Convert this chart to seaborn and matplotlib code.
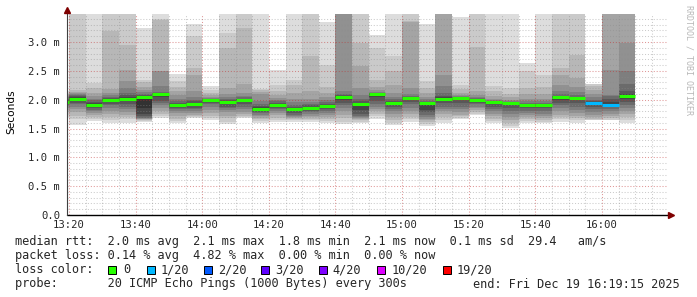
import numpy as np
import pandas as pd
import matplotlib
matplotlib.use("Agg")
import matplotlib.pyplot as plt
import seaborn as sns
from matplotlib.patches import Rectangle

# ---------------- data ----------------
bar_start = [t.strftime("%H:%M") for t in pd.date_range("2025-12-19 13:15", periods=35, freq="5min")]

median_rtt = [1.965, 2.02, 1.91, 1.99, 2.02, 2.05, 2.09, 1.91, 1.92, 1.99,
              1.965, 2.00, 1.84, 1.91, 1.84, 1.86, 1.885, 2.05, 1.92, 2.10,
              1.95, 2.03, 1.95, 2.02, 2.03, 1.99, 1.955, 1.94, 1.91, 1.91,
              2.05, 2.03, 1.94, 1.91, 2.06]

loss_count = [0, 0, 0, 0, 0, 0, 0, 0, 0, 0,
              0, 0, 0, 0, 0, 0, 0, 0, 0, 0,
              0, 0, 0, 0, 0, 0, 0, 0, 0, 0,
              0, 0, 1, 1, 0]

nan = float("nan")
# 20 sorted ping rtts (ms) per 5-minute step
ping_rtt = [
    [1.70, 1.74, 1.78, 1.82, 1.86, 1.89, 1.91, 1.93, 1.95, 1.96, 1.97, 1.98, 2.00, 2.02, 2.04, 2.06, 2.08, 2.10, 2.12, 2.15],
    [1.56, 1.66, 1.72, 1.78, 1.84, 1.88, 1.92, 1.95, 1.98, 2.01, 2.03, 2.04, 2.06, 2.08, 2.10, 2.12, 2.14, 2.17, 3.60, 3.60],
    [1.63, 1.66, 1.70, 1.74, 1.77, 1.80, 1.82, 1.85, 1.88, 1.90, 1.92, 1.94, 1.96, 1.99, 2.02, 2.06, 2.12, 2.20, 2.29, 3.60],
    [1.59, 1.64, 1.70, 1.75, 1.80, 1.86, 1.90, 1.93, 1.96, 1.98, 2.00, 2.01, 2.03, 2.05, 2.08, 2.12, 2.19, 3.19, 3.60, 3.60],
    [1.60, 1.66, 1.70, 1.74, 1.79, 1.84, 1.88, 1.93, 1.98, 2.01, 2.03, 2.05, 2.08, 2.12, 2.20, 2.32, 2.52, 2.95, 3.60, 3.60],
    [1.61, 1.63, 1.65, 1.66, 1.67, 1.68, 1.69, 1.72, 1.76, 1.86, 2.06, 2.07, 2.08, 2.10, 2.13, 2.17, 2.22, 2.30, 2.35, 3.24],
    [1.69, 1.72, 1.76, 1.81, 1.86, 1.90, 1.94, 1.98, 2.04, 2.08, 2.09, 2.10, 2.12, 2.14, 2.24, 2.49, 2.50, 3.38, 3.40, 3.60],
    [1.59, 1.63, 1.67, 1.72, 1.77, 1.80, 1.83, 1.86, 1.88, 1.90, 1.92, 1.93, 1.95, 1.98, 2.02, 2.08, 2.15, 2.22, 2.32, 2.44],
    [1.68, 1.70, 1.72, 1.74, 1.77, 1.80, 1.83, 1.86, 1.89, 1.91, 1.93, 1.95, 1.97, 2.00, 2.05, 2.15, 2.43, 2.55, 3.10, 3.31],
    [1.64, 1.68, 1.72, 1.77, 1.82, 1.88, 1.92, 1.95, 1.97, 1.985, 1.995, 2.00, 2.01, 2.02, 2.03, 2.05, 2.08, 2.12, 2.17, 2.23],
    [1.57, 1.62, 1.68, 1.72, 1.78, 1.82, 1.85, 1.88, 1.93, 1.955, 1.975, 1.985, 2.00, 2.02, 2.05, 2.10, 2.20, 2.90, 3.16, 3.60],
    [1.68, 1.70, 1.72, 1.75, 1.79, 1.83, 1.88, 1.92, 1.97, 1.995, 2.005, 2.01, 2.02, 2.04, 2.07, 2.12, 2.28, 3.25, 3.60, 3.60],
    [1.60, 1.63, 1.66, 1.68, 1.71, 1.74, 1.77, 1.79, 1.81, 1.83, 1.85, 1.87, 1.89, 1.92, 1.98, 2.10, 2.14, 2.16, 2.18, 3.60],
    [1.61, 1.65, 1.69, 1.73, 1.77, 1.80, 1.83, 1.86, 1.88, 1.90, 1.92, 1.93, 1.95, 1.97, 2.00, 2.03, 2.08, 2.15, 2.25, 2.52],
    [1.62, 1.64, 1.66, 1.68, 1.70, 1.72, 1.74, 1.77, 1.80, 1.83, 1.85, 1.86, 1.88, 1.91, 1.96, 2.02, 2.12, 2.25, 2.35, 3.60],
    [1.62, 1.65, 1.67, 1.70, 1.72, 1.75, 1.78, 1.80, 1.83, 1.85, 1.87, 1.88, 1.90, 1.92, 1.96, 2.02, 2.15, 2.75, 3.60, 3.60],
    [1.60, 1.63, 1.67, 1.70, 1.74, 1.77, 1.80, 1.83, 1.86, 1.88, 1.89, 1.90, 1.93, 1.96, 2.00, 2.05, 2.12, 2.22, 2.60, 3.35],
    [1.57, 1.62, 1.68, 1.74, 1.80, 1.85, 1.90, 1.95, 2.00, 2.04, 2.06, 2.07, 2.08, 2.10, 2.15, 3.60, 3.60, 3.60, 3.60, 3.60],
    [1.60, 1.62, 1.64, 1.66, 1.68, 1.70, 1.72, 1.76, 1.82, 1.91, 1.93, 1.95, 1.98, 2.02, 2.08, 2.20, 2.58, 2.98, 3.60, 3.60],
    [1.66, 1.72, 1.76, 1.80, 1.84, 1.88, 1.93, 1.98, 2.05, 2.09, 2.10, 2.105, 2.11, 2.12, 2.14, 2.17, 2.22, 2.35, 2.90, 3.12],
    [1.56, 1.60, 1.65, 1.70, 1.75, 1.80, 1.84, 1.88, 1.92, 1.945, 1.955, 1.965, 1.98, 2.01, 2.05, 2.12, 2.26, 2.49, 2.75, 3.60],
    [1.62, 1.66, 1.70, 1.75, 1.80, 1.86, 1.92, 1.96, 2.00, 2.025, 2.035, 2.04, 2.05, 2.07, 2.09, 2.20, 3.35, 3.36, 3.60, 3.60],
    [1.55, 1.58, 1.61, 1.64, 1.67, 1.70, 1.74, 1.78, 1.82, 1.945, 1.95, 1.955, 1.965, 1.98, 2.01, 2.05, 2.12, 2.20, 2.32, 3.31],
    [1.60, 1.65, 1.70, 1.76, 1.80, 1.84, 1.88, 1.94, 1.99, 2.015, 2.025, 2.04, 2.07, 2.12, 2.24, 2.43, 3.60, 3.60, 3.60, 3.60],
    [1.67, 1.69, 1.71, 1.74, 1.78, 1.83, 1.88, 1.94, 1.99, 2.025, 2.03, 2.035, 2.04, 2.05, 2.06, 2.08, 2.12, 2.18, 2.26, 3.44],
    [1.74, 1.76, 1.79, 1.82, 1.85, 1.88, 1.92, 1.95, 1.98, 1.995, 2.005, 2.01, 2.02, 2.03, 2.05, 2.08, 2.15, 2.91, 3.60, 3.60],
    [1.59, 1.63, 1.67, 1.71, 1.76, 1.80, 1.84, 1.88, 1.93, 1.95, 1.955, 1.96, 1.965, 1.975, 1.99, 2.02, 2.07, 2.15, 2.23, 3.60],
    [1.51, 1.55, 1.60, 1.65, 1.70, 1.75, 1.80, 1.86, 1.91, 1.935, 1.94, 1.945, 1.95, 1.96, 1.97, 2.00, 2.04, 2.10, 2.20, 3.60],
    [1.59, 1.63, 1.66, 1.70, 1.73, 1.77, 1.81, 1.85, 1.88, 1.905, 1.91, 1.915, 1.925, 1.94, 1.97, 2.02, 2.10, 2.20, 2.50, 2.63],
    [1.60, 1.62, 1.65, 1.68, 1.72, 1.76, 1.80, 1.85, 1.89, 1.905, 1.915, 1.92, 1.93, 1.95, 1.97, 2.02, 2.10, 2.22, 2.43, 3.60],
    [1.62, 1.66, 1.70, 1.74, 1.80, 1.85, 1.90, 1.95, 2.00, 2.045, 2.055, 2.06, 2.07, 2.10, 2.15, 2.26, 2.42, 2.55, 3.60, 3.60],
    [1.60, 1.64, 1.68, 1.72, 1.77, 1.82, 1.88, 1.94, 1.99, 2.025, 2.035, 2.04, 2.05, 2.08, 2.13, 2.22, 2.38, 2.78, 3.60, 3.60],
    [1.61, 1.64, 1.67, 1.70, 1.74, 1.78, 1.83, 1.87, 1.91, 1.94, 1.95, 1.96, 1.98, 2.00, 2.04, 2.10, 2.17, 2.23, 2.28, nan],
    [1.60, 1.64, 1.68, 1.72, 1.76, 1.80, 1.84, 1.87, 1.89, 1.91, 1.93, 1.96, 2.02, 2.06, 2.08, 2.52, 3.60, 3.60, 3.60, nan],
    [1.60, 1.65, 1.70, 1.75, 1.80, 1.85, 1.90, 1.96, 2.02, 2.05, 2.07, 2.09, 2.15, 2.28, 2.49, 2.98, 3.60, 3.60, 3.60, 3.60],
]

xtick_labels = ["13:20", "13:40", "14:00", "14:20", "14:40", "15:00", "15:20", "15:40", "16:00"]
ytick_labels = ["0.0", "0.5 m", "1.0 m", "1.5 m", "2.0 m", "2.5 m", "3.0 m"]
ytick_values = [0.0, 0.5, 1.0, 1.5, 2.0, 2.5, 3.0]

loss_legend = ["0", "1/20", "2/20", "3/20", "4/20", "10/20", "19/20"]
loss_colors = ["#26ff00", "#00b8ff", "#0059ff", "#5e00ff", "#7e00ff", "#dd00ff", "#ff0000"]
loss_thresholds = [0, 1, 2, 3, 4, 10, 19]

line_rtt = "median rtt:  2.0 ms avg  2.1 ms max  1.8 ms min  2.1 ms now  0.1 ms sd  29.4   am/s"
line_loss = "packet loss: 0.14 % avg  4.82 % max  0.00 % min  0.00 % now"
line_probe = "probe:       20 ICMP Echo Pings (1000 Bytes) every 300s"
line_end = "end: Fri Dec 19 16:19:15 2025"

# ---------------- figure ----------------
sns.set_style("white")
plt.rcParams["font.family"] = ["DejaVu Sans Mono"]
W, H = 697, 297
fig = plt.figure(figsize=(W / 100, H / 100), dpi=100)
fig.patch.set_facecolor("white")

x_l, x_r, y_b, y_t = 67.0, 666.6, 215.0, 14.0
ax = fig.add_axes([x_l / W, 1 - y_b / H, (x_r - x_l) / W, (y_b - y_t) / H])
ax.set_facecolor("white")

def to_min(s):
    h, m = s.split(":")
    return int(h) * 60 + int(m)

starts = np.array([to_min(s) for s in bar_start], dtype=float)
step = 5.0
pings = np.array(ping_rtt, dtype=float)
n = pings.shape[1]
half = n // 2

# smoke bands (smokeping style)
for k in range(1, half + 1):
    lo = pings[:, k - 1]
    hi = pings[:, n - k]
    ok = np.isfinite(lo) & np.isfinite(hi)
    g = int(190 / half * (half - k)) + 50
    col = "#%02x%02x%02x" % (g, g, g)
    ax.bar(starts[ok], (hi - lo)[ok], bottom=lo[ok], width=step, align="edge",
           color=col, linewidth=0, antialiased=False, zorder=1)

# median lines colored by loss
def loss_color(c):
    idx = 0
    for i, t in enumerate(loss_thresholds):
        if c >= t:
            idx = i
    return loss_colors[idx]

for s, m, lc in zip(starts, median_rtt, loss_count):
    ax.hlines(m, s, s + step, colors=loss_color(lc), linewidth=2.2, zorder=4)

xmin, xmax = 799.4, 979.4
ymax = 3.486
ax.set_xlim(xmin, xmax)
ax.set_ylim(0, ymax)

major_x = [to_min(s) for s in xtick_labels]
ax.set_xticks(major_x)
ax.set_xticklabels(xtick_labels, fontsize=7.6)
ax.set_xticks(np.arange(800, 980, 5), minor=True)
ax.set_yticks(ytick_values)
ax.set_yticklabels(ytick_labels, fontsize=7.6)
ax.set_yticks(np.arange(0.1, 3.45, 0.1), minor=True)

ax.set_axisbelow(False)
ax.grid(which="minor", color="#8c8c8c", alpha=0.45, linestyle=(0, (1, 1.8)), linewidth=0.75)
ax.grid(which="major", color="#c03030", alpha=0.5, linestyle=(0, (1, 1.8)), linewidth=0.75)
ax.tick_params(which="major", direction="out", length=1.5, width=0.7, color="#c06060", pad=3.5)
ax.tick_params(which="minor", direction="out", length=1.5, width=0.7, color="#b0b0b0")
ax.tick_params(axis="x", which="major", pad=2.2)

for sp in ax.spines.values():
    sp.set_visible(False)

# axes lines and arrows
ax.plot([xmin, xmax + 0.9], [0, 0], color="black", lw=1.0, clip_on=False, zorder=5)
ax.plot([xmin, xmin], [0, ymax + 0.07], color="#404040", lw=0.8, clip_on=False, zorder=5)
ax.plot([xmax + 1.3], [0], marker=">", color="#7f0000", markersize=4.5, clip_on=False, zorder=6)
ax.plot([xmin], [ymax + 0.07], marker="^", color="#7f0000", markersize=4.5, clip_on=False, zorder=6)

# y label
fig.text(11 / W, 1 - 112 / H, "Seconds", rotation=90, ha="center", va="center",
         fontsize=7.6, family="DejaVu Sans", color="black")

# watermark
fig.text(688.5 / W, 1 - 60 / H, "RRDTOOL / TOBI OETIKER", rotation=270, ha="center", va="center",
         fontsize=6, color="#b8b8b8")

# legend text
fs = 8.6
fig.text(15 / W, 1 - 241.5 / H, line_rtt, ha="left", va="center", fontsize=fs)
fig.text(15 / W, 1 - 255.8 / H, line_loss, ha="left", va="center", fontsize=fs)
fig.text(15 / W, 1 - 269.8 / H, "loss color:", ha="left", va="center", fontsize=fs)
fig.text(15 / W, 1 - 284.0 / H, line_probe, ha="left", va="center", fontsize=fs)
fig.text(680 / W, 1 - 284.0 / H, line_end, ha="right", va="center", fontsize=fs)

box_x = [108.3, 146.7, 204.0, 261.3, 319.0, 377.3, 443.3]
text_x = [123.3, 160.7, 218.3, 275.7, 333.3, 392.3, 457.3]
for bx, tx, lab, c in zip(box_x, text_x, loss_legend, loss_colors):
    fig.add_artist(Rectangle((bx / W, 1 - 274.0 / H), 8 / W, 8.5 / H, transform=fig.transFigure,
                             facecolor=c, edgecolor="black", linewidth=0.7))
    fig.text((tx - 0.5) / W, 1 - 269.8 / H, lab, ha="left", va="center", fontsize=fs)

fig.savefig("out.png", dpi=100, facecolor="white")
